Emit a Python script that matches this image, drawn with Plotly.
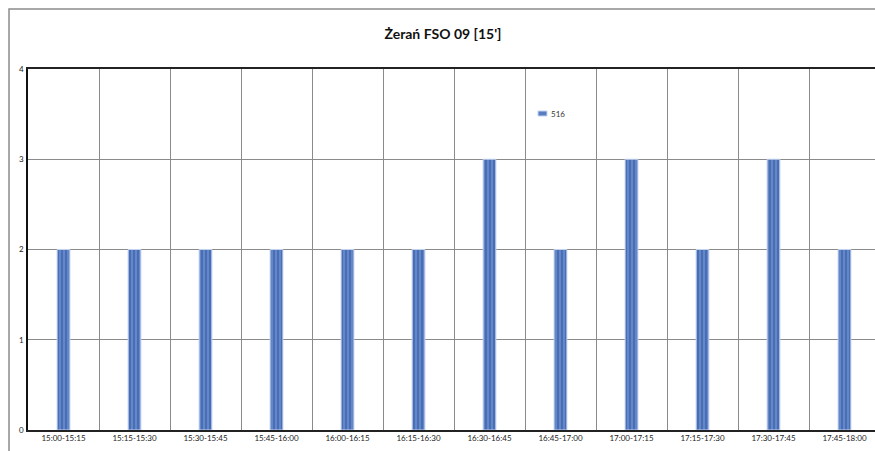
import plotly.graph_objects as go

categories = ["15:00-15:15", "15:15-15:30", "15:30-15:45", "15:45-16:00",
              "16:00-16:15", "16:15-16:30", "16:30-16:45", "16:45-17:00",
              "17:00-17:15", "17:15-17:30", "17:30-17:45", "17:45-18:00"]
values_516 = [2, 2, 2, 2, 2, 2, 3, 2, 3, 2, 3, 2]
series_name = "516"
title_text = "Żerań FSO 09 [15']"

W, H = 890, 451
L, T, B = 28, 69, 21
pw, ph = W - L, H - T - B

def px(x):
    return (x - L) / pw

def py(y):
    return (H - B - y) / ph

fig = go.Figure()
fig.add_trace(go.Bar(
    x=categories, y=values_516, name=series_name,
    marker=dict(color="#5a7dc2",
                line=dict(color="#c2d3f0", width=1),
                pattern=dict(shape="|", fgcolor="#4467ab", bgcolor="#6387cb",
                             size=4, solidity=0.4)),
    showlegend=False,
))

fig.update_layout(
    template="none",
    width=W, height=H,
    margin=dict(l=L, r=0, t=T, b=B, autoexpand=False),
    paper_bgcolor="white", plot_bgcolor="white",
    font=dict(family="Lato, Liberation Sans, sans-serif", size=8, color="#222"),
    title=dict(text="<b>" + title_text + "</b>", x=443 / W, xanchor="center",
               y=1 - 34 / H, yanchor="middle",
               font=dict(size=14, color="#111", family="Lato, sans-serif")),
    bargap=0.82,
    showlegend=False,
)
fig.update_xaxes(
    type="category", range=[-0.5, -0.5 + pw / 71.0], automargin=False,
    tickson="boundaries", showgrid=True, gridcolor="#8a8a8a", gridwidth=1,
    showline=True, linecolor="#222", linewidth=1.5, mirror=True,
    ticks="outside", ticklen=10, tickcolor="rgba(0,0,0,0)",
    tickfont=dict(size=8), fixedrange=True,
)
fig.update_yaxes(
    range=[0, 4], dtick=1, showgrid=True, gridcolor="#8a8a8a", gridwidth=1,
    showline=True, linecolor="#111", linewidth=1.5, mirror=True, automargin=False,
    ticks="outside", ticklen=1, tickcolor="rgba(0,0,0,0)",
    tickfont=dict(size=8), zeroline=False, fixedrange=True,
)
# outer chart border (cropped right and bottom)
fig.add_shape(type="rect", xref="paper", yref="paper",
              x0=px(9), x1=1.05, y0=-0.2, y1=py(9),
              line=dict(color="#8c8c8c", width=1.5), fillcolor="rgba(0,0,0,0)", layer="below")
# legend swatch + label
fig.add_shape(type="rect", xref="paper", yref="paper",
              x0=px(538), x1=px(547), y0=py(116), y1=py(111),
              line=dict(color="#c2d3f0", width=1), fillcolor="#5a7dc2")
fig.add_annotation(text=series_name, xref="paper", yref="paper",
                   x=px(548.5), y=py(113.5), xanchor="left", yanchor="middle",
                   showarrow=False, font=dict(size=8, color="#333"))

fig.write_html("out.html", config={"displayModeBar": False},
               post_script="document.body.style.margin='0';document.body.style.overflow='hidden';")
